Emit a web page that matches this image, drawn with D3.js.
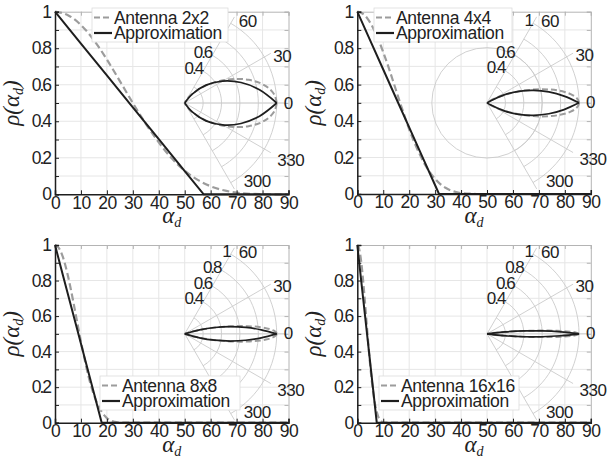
<!DOCTYPE html>
<html>
<head>
<meta charset="utf-8">
<script src="https://cdn.jsdelivr.net/npm/d3@7"></script>
<style>
  body { margin: 0; background: #fff; }
  svg text { font-family: "Liberation Sans", Arial, sans-serif; fill: #222; }
</style>
</head>
<body>
<svg id="chart" width="608" height="460"></svg>
<script>
// ---- data (angle in degrees, normalised rho) ----
const xTicks = [0, 10, 20, 30, 40, 50, 60, 70, 80, 90];
const yTicks = [0, 0.1, 0.2, 0.3, 0.4, 0.5, 0.6, 0.7, 0.8, 0.9, 1];
const ringTicks = [0.2, 0.4, 0.6, 0.8, 1];
const ringLabels = [0.4, 0.6, 0.8, 1];
const thetaTicks = [60, 30, 0, -30, -60];
const thetaLabels = ['60', '30', '0', '330', '300'];
const seriesNames = ['Antenna 2x2', 'Antenna 4x4', 'Antenna 8x8', 'Antenna 16x16'];

const ant2x2 = [[0,1],[5,0.981],[10,0.927],[15,0.844],[20,0.738],[25,0.620],[30,0.500],[35,0.386],
  [40,0.284],[45,0.197],[50,0.129],[55,0.079],[60,0.044],[65,0.022],[70,0.009],[75,0.003],[80,0.001],[85,0],[90,0]];
const apx2x2 = [[0,1],[10,0.825],[20,0.651],[30,0.476],[40,0.302],[50,0.127],[57.3,0],[90,0]];

const ant4x4 = [[0,1],[2,0.990],[4,0.961],[6,0.914],[8,0.852],[10,0.778],[12,0.697],[14,0.610],[16,0.522],
  [18,0.437],[20,0.355],[22,0.283],[24,0.220],[26,0.163],[28,0.119],[30,0.083],[32,0.054],[34,0.034],
  [36,0.020],[38,0.011],[40,0.005],[43,0.002],[46,0],[90,0]];
const apx4x4 = [[0,1],[5,0.841],[10,0.683],[15,0.524],[20,0.365],[25,0.206],[30,0.048],[31.5,0],[90,0]];

const ant8x8 = [[0,1],[1,0.992],[2,0.970],[3,0.934],[4,0.885],[5,0.826],[6,0.758],[7,0.685],[8,0.608],
  [9,0.532],[10,0.456],[11,0.386],[12,0.318],[13,0.256],[14,0.203],[15,0.157],[16,0.118],[17,0.087],
  [18,0.061],[19,0.041],[20,0.026],[21,0.016],[22,0.009],[23,0.005],[24,0.002],[26,0],[90,0]];
const apx8x8 = [[0,1],[3,0.833],[6,0.667],[9,0.5],[12,0.333],[15,0.167],[18,0],[90,0]];

const ant16x16 = [[0,1],[0.5,0.989],[1,0.957],[1.5,0.906],[2,0.838],[2.5,0.758],[3,0.671],[3.5,0.579],
  [4,0.488],[4.5,0.400],[5,0.318],[5.5,0.247],[6,0.185],[6.5,0.134],[7,0.092],[7.5,0.061],[8,0.037],
  [8.5,0.022],[9,0.012],[10,0.002],[11,0],[90,0]];
const apx16x16 = [[0,1],[1.5,0.8],[3,0.6],[4.5,0.4],[6,0.2],[7.5,0],[90,0]];

// ---- layout ----
const svg = d3.select('#chart');
const R = 92;                       // polar radius for rho = 1
const antColor = '#9c9c9c', apxColor = '#1e1e1e';
const thetaNudge = { '60': [4, 5], '30': [2, 3], '0': [-1, 0], '330': [6, 7], '300': [9, -8] };

const panels = [
  { name: seriesNames[0], ant: ant2x2, apx: apx2x2, box: [55, 288.5, 11.7, 194.3], legend: [92, 8, 136] },
  { name: seriesNames[1], ant: ant4x4, apx: apx4x4, box: [357.3, 590.8, 11.7, 194], legend: [374, 8, 138], fullRing: 0.6 },
  { name: seriesNames[2], ant: ant8x8, apx: apx8x8, box: [55, 288.5, 245, 422.7], legend: [100, 376, 140] },
  { name: seriesNames[3], ant: ant16x16, apx: apx16x16, box: [357.3, 590.8, 245, 422.7], legend: [379, 376, 140] }
];

panels.forEach(drawPanel);

function overlaps(a, b) {
  return a.left < b.right && a.right > b.left && a.top < b.bottom && a.bottom > b.top;
}

function drawPanel(p) {
  const [x0, x1, y1, y0] = p.box;
  const x = d3.scaleLinear().domain([0, 90]).range([x0, x1]);
  const y = d3.scaleLinear().domain([0, 1]).range([y0, y1]);
  const g = svg.append('g');

  // grid
  g.append('g').selectAll('line').data(xTicks.slice(1, -1)).join('line')
    .attr('x1', d => x(d)).attr('x2', d => x(d)).attr('y1', y0).attr('y2', y1)
    .attr('stroke', '#e6e6e6');
  g.append('g').selectAll('line').data(yTicks.slice(1, -1)).join('line')
    .attr('y1', d => y(d)).attr('y2', d => y(d)).attr('x1', x0).attr('x2', x1)
    .attr('stroke', '#e6e6e6');

  // top / right frame
  const top = g.append('g').attr('transform', `translate(0,${y1})`)
    .call(d3.axisTop(x).tickValues(xTicks).tickSize(-4).tickFormat(''));
  const right = g.append('g').attr('transform', `translate(${x1},0)`)
    .call(d3.axisRight(y).tickValues(yTicks).tickSize(-4).tickFormat(''));
  [top, right].forEach(a => a.selectAll('path,line').attr('stroke', '#b4b4b4'));

  // polar grid
  const cx = x(50), cy = y(0.5);
  const r = d3.scaleLinear().domain([0, 1]).range([0, R]);
  const pg = g.append('g').attr('transform', `translate(${cx},${cy})`);
  ringTicks.forEach(v => {
    const arc = d3.path();
    arc.arc(0, 0, r(v), -Math.PI / 3, Math.PI / 3);
    pg.append('path').attr('d', arc.toString()).attr('fill', 'none')
      .attr('stroke', '#cbcbcb').attr('stroke-width', 0.9);
  });
  if (p.fullRing) {
    pg.append('circle').attr('r', r(p.fullRing)).attr('fill', 'none')
      .attr('stroke', '#cbcbcb').attr('stroke-width', 0.9);
  }
  pg.selectAll('line.spoke').data(thetaTicks).join('line').attr('class', 'spoke')
    .attr('x1', 0).attr('y1', 0)
    .attr('x2', d => r(1.08) * Math.cos(d * Math.PI / 180))
    .attr('y2', d => -r(1.08) * Math.sin(d * Math.PI / 180))
    .attr('stroke', '#cbcbcb').attr('stroke-width', 0.9);

  // main curves
  const antLine = d3.line().curve(d3.curveMonotoneX).x(d => x(d[0])).y(d => y(d[1]));
  const apxLine = d3.line().x(d => x(d[0])).y(d => y(d[1]));
  g.append('path').attr('d', antLine(p.ant)).attr('fill', 'none')
    .attr('stroke', antColor).attr('stroke-width', 2.2).attr('stroke-dasharray', '7,3.5');
  g.append('path').attr('d', apxLine(p.apx)).attr('fill', 'none')
    .attr('stroke', apxColor).attr('stroke-width', 2);

  // polar curves (mirrored about 0 deg)
  const radial = d3.lineRadial().curve(d3.curveCatmullRom)
    .angle(d => Math.PI / 2 - d[0] * Math.PI / 180)
    .radius(d => r(d[1]));
  const mirror = arr => arr.map(d => [-d[0], d[1]]);
  [p.ant, mirror(p.ant)].forEach(arr => {
    pg.append('path').attr('d', radial(arr)).attr('fill', 'none')
      .attr('stroke', antColor).attr('stroke-width', 2).attr('stroke-dasharray', '6,3');
  });
  [p.apx, mirror(p.apx)].forEach(arr => {
    pg.append('path').attr('d', radial(arr)).attr('fill', 'none')
      .attr('stroke', apxColor).attr('stroke-width', 1.7);
  });

  // axes
  const fmt = d => (Math.round(d * 10) % 2 === 0) ? d3.format('~g')(d) : '';
  const left = g.append('g').attr('transform', `translate(${x0},0)`)
    .call(d3.axisLeft(y).tickValues(yTicks).tickSize(-4).tickPadding(5).tickFormat(fmt));
  const bottom = g.append('g').attr('transform', `translate(0,${y0})`)
    .call(d3.axisBottom(x).tickValues(xTicks).tickSize(-4).tickPadding(2));
  [left, bottom].forEach(a => {
    a.select('.domain').attr('stroke', '#1e1e1e').attr('stroke-width', 1.5);
    a.selectAll('.tick line').attr('stroke', '#1e1e1e');
    a.selectAll('text').attr('font-size', 17.5).attr('fill', '#222')
      .style('font-family', '"Liberation Sans", Arial, sans-serif');
  });
  left.selectAll('text').attr('letter-spacing', -2);
  bottom.selectAll('text').attr('letter-spacing', -0.5);

  // polar labels
  const rl = pg.selectAll('text.rl').data(ringLabels).join('text').attr('class', 'rl')
    .attr('x', d => r(d) * Math.cos(Math.PI / 3) - 1)
    .attr('y', d => -r(d) * Math.sin(Math.PI / 3) - 3)
    .attr('text-anchor', 'end').attr('dominant-baseline', 'central')
    .attr('font-size', 17).attr('letter-spacing', -2)
    .text(d => d3.format('~g')(d));
  pg.selectAll('text.tl').data(thetaTicks).join('text').attr('class', 'tl')
    .attr('x', (d, i) => r(1.087) * Math.cos(d * Math.PI / 180) + thetaNudge[thetaLabels[i]][0])
    .attr('y', (d, i) => -r(1.087) * Math.sin(d * Math.PI / 180) + thetaNudge[thetaLabels[i]][1])
    .attr('dominant-baseline', 'central').attr('font-size', 17).attr('letter-spacing', -0.5)
    .text((d, i) => thetaLabels[i]);

  // axis titles
  const ylab = g.append('text')
    .attr('transform', `translate(${x0 - 36},${(y0 + y1) / 2}) rotate(-90)`)
    .attr('text-anchor', 'middle')
    .style('font-family', '"Liberation Serif", "Times New Roman", serif')
    .style('font-style', 'italic').attr('font-size', 23);
  ylab.append('tspan').text('\u03c1(\u03b1');
  ylab.append('tspan').attr('dy', 4).attr('font-size', 14).text('d');
  ylab.append('tspan').attr('dy', -4).text(')');

  const xlab = g.append('text')
    .attr('x', (x0 + x1) / 2).attr('y', y0 + 29)
    .attr('text-anchor', 'middle')
    .style('font-family', '"Liberation Serif", "Times New Roman", serif')
    .style('font-style', 'italic').attr('font-size', 23);
  xlab.append('tspan').text('\u03b1');
  xlab.append('tspan').attr('dy', 4).attr('font-size', 14).text('d');

  // legend
  const [bx, by, bw] = p.legend;
  const lg = g.append('g').attr('transform', `translate(${bx},${by})`);
  const box = lg.append('rect').attr('width', bw).attr('height', 34)
    .attr('fill', '#fff').attr('stroke', '#dcdcdc').attr('stroke-width', 0.8);
  const rows = [
    { label: p.name, color: antColor, dash: '6,3' },
    { label: 'Approximation', color: apxColor, dash: null }
  ];
  rows.forEach((row, i) => {
    const ry = 9.5 + i * 15.5;
    lg.append('line').attr('x1', 2).attr('x2', 20).attr('y1', ry).attr('y2', ry)
      .attr('stroke', row.color).attr('stroke-width', 2.2)
      .attr('stroke-dasharray', row.dash);
    lg.append('text').attr('x', 22).attr('y', ry).attr('dy', '0.35em')
      .attr('font-size', 17.5).attr('letter-spacing', -0.3).text(row.label);
  });

  // ring labels lying under the legend box are hidden by it
  const lb = box.node().getBoundingClientRect();
  rl.each(function () {
    if (overlaps(this.getBoundingClientRect(), lb)) d3.select(this).remove();
  });
}
</script>
</body>
</html>
